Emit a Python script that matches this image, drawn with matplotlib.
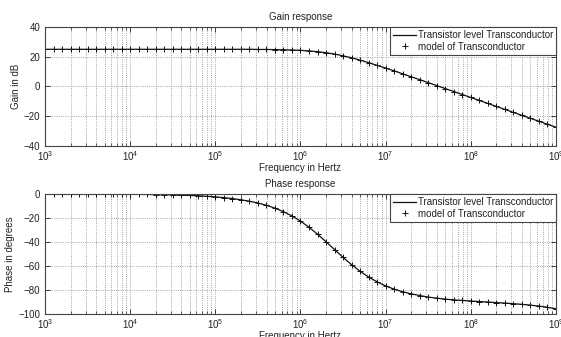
import numpy as np
import matplotlib
matplotlib.use("Agg")
import matplotlib.pyplot as plt
from matplotlib.ticker import LogLocator, FixedLocator, NullFormatter

plt.rcParams['font.family'] = ['Liberation Sans', 'DejaVu Sans']
plt.rcParams['mathtext.fontset'] = 'custom'
plt.rcParams['mathtext.rm'] = 'Liberation Sans'
plt.rcParams['mathtext.it'] = 'Liberation Sans'
plt.rcParams['font.size'] = 7

# frequency points (10 per decade, 1 kHz .. 1 GHz)
freq_exp = [3.0 + k / 10 for k in range(61)]

# gain in dB
gain_db = [25.0] * 25 + [
    24.9, 24.9, 24.8, 24.7, 24.55, 24.3, 23.9, 23.4, 22.7, 21.8,
    20.6, 19.3, 17.7, 16.0, 14.2, 12.4, 10.5, 8.5, 6.5, 4.6,
    2.6, 0.6, -1.4, -3.4, -5.4, -7.4, -9.4, -11.4, -13.4, -15.4,
    -17.4, -19.4, -21.4, -23.4, -25.4, -27.4,
]

# phase in degrees
phase_deg = [
    -0.02, -0.03, -0.04, -0.05, -0.06, -0.08, -0.10, -0.12, -0.15, -0.19,
    -0.24, -0.30, -0.38, -0.48, -0.60, -0.76, -0.95, -1.2, -1.5, -1.9,
    -2.4, -3.0, -3.8, -4.8, -6.0, -7.5, -9.4, -11.8, -14.7, -18.3,
    -22.6, -27.7, -33.5, -39.8, -46.3, -52.8, -58.9, -64.4, -69.2, -73.2,
    -76.6, -79.3, -81.5, -83.2, -84.6, -85.9, -86.8, -87.6, -88.2, -88.7,
    -89.2, -89.6, -90.0, -90.5, -90.9, -91.4, -91.9, -92.6, -93.4, -94.4,
    -95.6,
]

freq = 10.0 ** np.array(freq_exp)

ink = '#222222'
fig = plt.figure(figsize=(5.61, 3.37), dpi=100)
ax1 = fig.add_axes([0.0802, 0.5668, 0.9109, 0.3531])
ax2 = fig.add_axes([0.0802, 0.0682, 0.9109, 0.3561])


def style(ax, ylim, yticks, title, ylabel):
    ax.set_xscale('log')
    ax.set_xlim(1e3, 1e9)
    ax.set_ylim(*ylim)
    ax.yaxis.set_major_locator(FixedLocator(yticks))
    ax.xaxis.set_major_locator(LogLocator(base=10, numticks=20))
    ax.xaxis.set_minor_locator(LogLocator(base=10, subs=np.arange(2, 10), numticks=100))
    ax.xaxis.set_minor_formatter(NullFormatter())
    ax.grid(True, which='major', linestyle=':', color='#888888', linewidth=0.6)
    ax.grid(True, which='minor', axis='x', linestyle=':', color='#888888', linewidth=0.6)
    ax.tick_params(which='both', direction='in', top=True, right=True, colors=ink,
                   labelsize=7)
    ax.tick_params(which='major', length=3.5, width=0.6)
    ax.tick_params(axis='x', which='major', pad=2)
    ax.tick_params(which='minor', length=2, width=0.5)
    for s in ax.spines.values():
        s.set_color('#444444')
        s.set_linewidth(0.8)
    ax.set_title(title, fontsize=7, color=ink, pad=5)
    ax.set_xlabel('Frequency in Hertz', fontsize=7, color=ink, labelpad=0)
    ax.set_ylabel(ylabel, fontsize=7, color=ink, labelpad=2)


for ax, y, ylim, yticks, title, ylabel in [
    (ax1, gain_db, (-40, 40), [-40, -20, 0, 20, 40], 'Gain response', 'Gain in dB'),
    (ax2, phase_deg, (-100, 0), [-100, -80, -60, -40, -20, 0], 'Phase response', 'Phase in degrees'),
]:
    ax.plot(freq, y, color='#111111', linewidth=0.9, label='Transistor level Transconductor')
    ax.plot(freq, y, linestyle='none', marker='+', markersize=4, markeredgewidth=0.7,
            color='#111111', label='model of Transconductor')
    style(ax, ylim, yticks, title, ylabel)
    leg = ax.legend(loc='upper right', borderaxespad=0, fancybox=False, framealpha=1,
                    edgecolor='#444444', fontsize=7, handlelength=2.3, handletextpad=0.2,
                    borderpad=0.3, labelspacing=0.2)
    leg.get_frame().set_linewidth(0.8)
    for t in leg.get_texts():
        t.set_color(ink)

fig.savefig('out.png', dpi=100)
